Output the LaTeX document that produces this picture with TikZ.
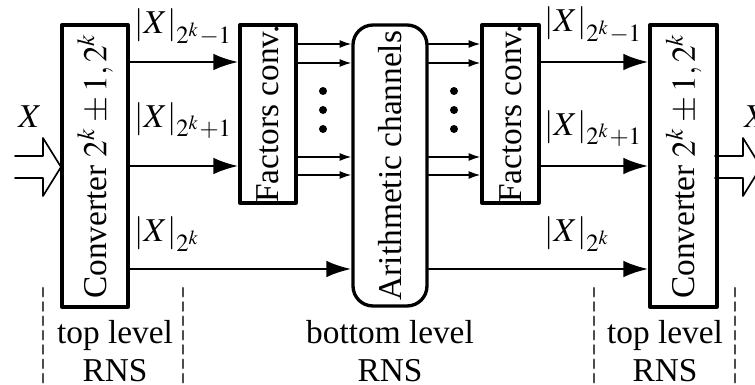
\documentclass[tikz,border=0pt]{standalone}
\usepackage{mathptmx}
\usepackage{fontspec}
\setmainfont{Liberation Serif}
\usetikzlibrary{arrows.meta}

\begin{document}
\begin{tikzpicture}[x=.3pt,y=-.3pt,line width=.8pt,>=latex,
  line cap=round,line join=round,font=\fontsize{10}{11.5}\selectfont,
  blk/.style={draw,line width=1pt,inner sep=0pt},
  ch/.style={line width=.8pt,-{Latex[length=7.5pt,width=5pt]}},
  sub/.style={line width=.5pt,-{Latex[length=3.5pt,width=2.4pt]}},
  sep/.style={gray!60!black,line width=.8pt,dash pattern=on 2.5pt off 1.8pt},
  lbl/.style={anchor=base west,inner sep=0pt}]
  \def\hA#1{%
    \begin{scope}[shift={#1}]
      \draw[line width=.5pt] (-46,-11)--(-18,-11)--(-18,-29)--(0,0)
        --(-18,29)--(-18,11)--(-46,11);
    \end{scope}}
  \useasboundingbox (0,0) rectangle (755,385);
  % boxes
  \node[blk,minimum width=19.8pt,minimum height=84.6pt] (convL) at (95,166)
    {\rotatebox{90}{Converter $2^k\pm1,2^k$}};
  \node[blk,minimum width=16.8pt,minimum height=53.4pt] (fcL) at (268,114)
    {\rotatebox{90}{Factors conv.}};
  \node[blk,rounded corners=6pt,minimum width=22.2pt,minimum height=84.3pt]
    (arith) at (390,165.5) {\rotatebox{90}{Arithmetic channels}};
  \node[blk,minimum width=17.1pt,minimum height=53.4pt] (fcR) at (510.5,114)
    {\rotatebox{90}{Factors conv.}};
  \node[blk,minimum width=20.1pt,minimum height=84.6pt] (convR) at (683.5,166)
    {\rotatebox{90}{Converter $2^k\pm1,2^k$}};
  % in / out
  \hA{(61,167)}
  \hA{(761,167)}
  \node[lbl] (xin) at (17,127) {$X$};
  \node[lbl] (xout) at (743,128) {$X$};
  % channels
  \draw[ch] (convL.east |- 0,62) -- (fcL.west |- 0,62);
  \draw[ch] (convL.east |- 0,166) -- (fcL.west |- 0,166);
  \draw[ch] (convL.east |- 0,269) -- (arith.west |- 0,269);
  \draw[ch] (fcR.east |- 0,62) -- (convR.west |- 0,62);
  \draw[ch] (fcR.east |- 0,166) -- (convR.west |- 0,166);
  \draw[ch] (arith.east |- 0,269) -- (convR.west |- 0,269);
  \foreach \y in {44,63,157,175} {
    \draw[sub] (fcL.east |- 0,\y) -- (arith.west |- 0,\y);
    \draw[sub] (arith.east |- 0,\y) -- (fcR.west |- 0,\y);
  }
  \foreach \y in {91,110,129} {
    \fill (323,\y) circle[radius=1.2pt];
    \fill (454,\y) circle[radius=1.2pt];
  }
  \node[lbl] (m1L) at (133,34) {$|X|_{2^k-1}$};
  \node[lbl] (m2L) at (133,127) {$|X|_{2^k+1}$};
  \node[lbl] (m3L) at (133,242) {$|X|_{2^k}$};
  \node[lbl] (m1R) at (543,32) {$|X|_{2^k-1}$};
  \node[lbl] (m2R) at (543,135) {$|X|_{2^k+1}$};
  \node[lbl] (m3R) at (543,242) {$|X|_{2^k}$};
  % levels
  \draw[sep] (43,288) -- (43,385);
  \draw[sep] (183,288) -- (183,385);
  \draw[sep] (594,288) -- (594,385);
  \draw[sep] (735,288) -- (735,385);
  \node[align=center] (topL) at (115,351) {top level\\RNS};
  \node[align=center] (bot) at (390,351) {bottom level\\RNS};
  \node[align=center] (topR) at (665,351) {top level\\RNS};
\end{tikzpicture}
\end{document}
